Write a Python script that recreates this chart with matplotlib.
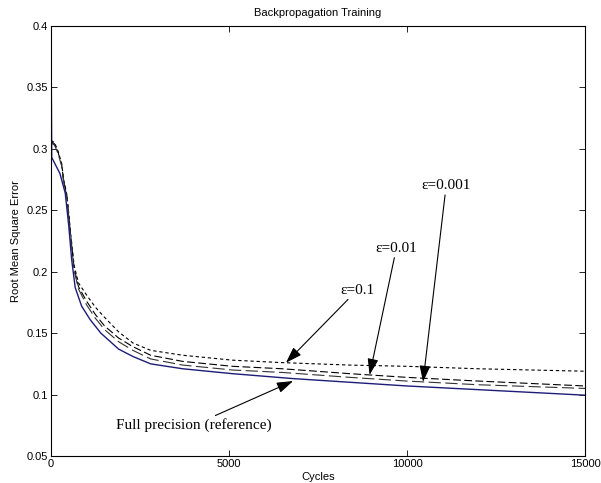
import numpy as np
import matplotlib
matplotlib.use("Agg")
import matplotlib.pyplot as plt

# ---- data ----
x_full = [0, 20, 250, 400, 500, 580, 680, 860, 1100, 1400, 1900, 2300, 2800, 3700,
          5100, 6800, 8400, 10000, 12000, 14000, 15000]
y_full = [0.400, 0.293, 0.280, 0.264, 0.237, 0.210, 0.187, 0.172, 0.161, 0.150, 0.137,
          0.131, 0.125, 0.121, 0.117, 0.113, 0.110, 0.107, 0.104, 0.101, 0.0995]

x_eps = [0, 100, 200, 300, 350, 450, 550, 650, 770, 1000, 1250, 1500, 1900, 2300,
         2800, 3700, 5100, 6500, 8400, 10000, 12000, 15000]
y_eps01 = [0.307, 0.305, 0.298, 0.288, 0.276, 0.262, 0.232, 0.205, 0.191, 0.181, 0.171,
           0.163, 0.151, 0.142, 0.136, 0.132, 0.128, 0.126, 0.124, 0.123, 0.121, 0.119]
y_eps001 = [0.306, 0.304, 0.297, 0.287, 0.275, 0.261, 0.230, 0.203, 0.188, 0.176, 0.165,
            0.156, 0.146, 0.139, 0.132, 0.127, 0.123, 0.121, 0.117, 0.114, 0.111, 0.107]
y_eps0001 = [0.305, 0.303, 0.296, 0.286, 0.274, 0.260, 0.229, 0.201, 0.186, 0.173, 0.162,
             0.153, 0.143, 0.136, 0.129, 0.124, 0.120, 0.118, 0.114, 0.111, 0.108, 0.105]

x_ticks = [0, 5000, 10000, 15000]
y_ticks = [0.05, 0.1, 0.15, 0.2, 0.25, 0.3, 0.35, 0.4]
y_ticklabels = ["0.05", "0.1", "0.15", "0.2", "0.25", "0.3", "0.35", "0.4"]

plt.rcParams['font.family'] = ['Liberation Sans', 'DejaVu Sans']

fig = plt.figure(figsize=(6.01, 4.83), dpi=100)
ax = fig.add_axes([51/601, 1 - 456/483, 534/601, 430/483])

ax.plot(x_eps, y_eps01, color='black', lw=0.8, dashes=(3, 2.5))
ax.plot(x_eps, y_eps001, color='black', lw=0.8, dashes=(7, 3))
ax.plot(x_eps, y_eps0001, color='#333333', lw=0.8, dashes=(11, 4))
ax.plot(x_full, y_full, color='#1c1c78', lw=1.0)

ax.set_xlim(0, 15000)
ax.set_ylim(0.05, 0.4)
ax.set_xticks(x_ticks)
ax.set_xticklabels([str(v) for v in x_ticks])
ax.set_yticks(y_ticks)
ax.set_yticklabels(y_ticklabels)
ax.tick_params(direction='in', top=True, right=True, labelsize=8, length=4, width=0.6, pad=2)
for s in ax.spines.values():
    s.set_linewidth(0.8)

ax.set_title("Backpropagation Training", fontsize=8, pad=7)
ax.set_xlabel("Cycles", fontsize=8, labelpad=2)
ax.set_ylabel("Root Mean Square Error", fontsize=8, labelpad=4)

serif = ['Liberation Serif', 'DejaVu Serif']
ap = dict(arrowstyle="-|>,head_length=0.9,head_width=0.3", color='black', lw=0.8,
          shrinkA=0, shrinkB=0)

tip_x = 6600
ax.annotate("ε=0.1", xy=(tip_x, np.interp(tip_x, x_eps, y_eps01)), xytext=(8600, 0.185),
            fontsize=11, family=serif, ha='center', va='center', arrowprops=ap)
tip_x = 8950
ax.annotate("ε=0.01", xy=(tip_x, np.interp(tip_x, x_eps, y_eps001)), xytext=(9700, 0.219),
            fontsize=11, family=serif, ha='center', va='center', arrowprops=ap)
tip_x = 10450
ax.annotate("ε=0.001", xy=(tip_x, np.interp(tip_x, x_eps, y_eps0001)), xytext=(11100, 0.27),
            fontsize=11, family=serif, ha='center', va='center', arrowprops=ap)
tip_x = 6800
ax.annotate("Full precision (reference)", xy=(tip_x, np.interp(tip_x, x_full, y_full) - 0.002),
            xytext=(4000, 0.075), fontsize=11, family=serif, ha='center', va='center',
            arrowprops=ap)

fig.savefig("out.png", dpi=100)
